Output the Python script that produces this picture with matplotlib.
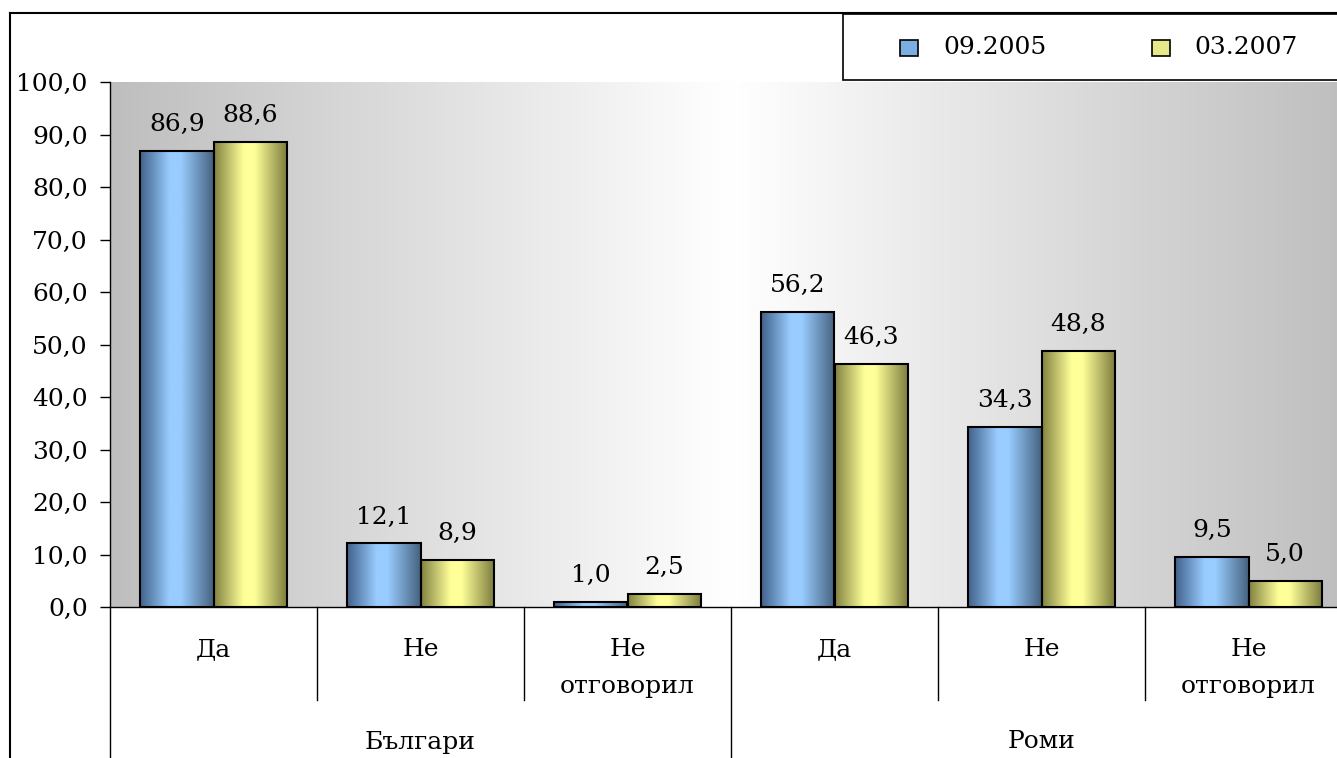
import numpy as np
import matplotlib
matplotlib.use("Agg")
import matplotlib.pyplot as plt
from matplotlib.colors import LinearSegmentedColormap
from matplotlib.patches import Rectangle
from matplotlib.lines import Line2D
import matplotlib.transforms as mtransforms

# ---- data ----
categories = ["Да", "Не", "Не\nотговорил", "Да", "Не", "Не\nотговорил"]
groups = ["Българи", "Роми"]
series_names = ["09.2005", "03.2007"]
values_2005 = [86.9, 12.1, 1.0, 56.2, 34.3, 9.5]
values_2007 = [88.6, 8.9, 2.5, 46.3, 48.8, 5.0]
yticks = [0, 10, 20, 30, 40, 50, 60, 70, 80, 90, 100]

FONT = "DejaVu Serif"
plt.rcParams['font.family'] = [FONT]
FS = 18

W, H = 1337, 758
fig = plt.figure(figsize=(W / 100, H / 100), dpi=100)
fig.patch.set_facecolor("white")

def px(x, y):
    return x / W, 1 - y / H

ax_left, ax_right, ax_top, ax_bot = 110, 1352, 82, 607
ax = fig.add_axes([ax_left / W, 1 - ax_bot / H, (ax_right - ax_left) / W, (ax_bot - ax_top) / H])
ax.set_xlim(0, 6)
ax.set_ylim(0, 100)
ax.patch.set_visible(False)

# background gradient (gray - white - gray)
bg_cmap = LinearSegmentedColormap.from_list("bg", ["#bebebe", "#ffffff", "#bebebe"])
grad = np.linspace(0, 1, 512).reshape(1, -1)
ax.imshow(grad, cmap=bg_cmap, aspect="auto", extent=[0, 6, 0, 100], zorder=0,
          interpolation="bicubic")

blue_cmap = LinearSegmentedColormap.from_list(
    "b", [(0, "#41618a"), (0.4, "#99ccff"), (0.55, "#99ccff"), (1, "#45627f")])
yel_cmap = LinearSegmentedColormap.from_list(
    "y", [(0, "#828242"), (0.4, "#ffff99"), (0.55, "#ffff99"), (1, "#7a7a3c")])

x = np.arange(len(categories)) + 0.5
bw = 0.355

def grad_bars(xs, vals, cmap):
    bars = ax.bar(xs, vals, width=bw, facecolor="none", edgecolor="black",
                  linewidth=1.5, zorder=3)
    g = np.linspace(0, 1, 256).reshape(1, -1)
    for b in bars:
        x0, y0 = b.get_x(), b.get_y()
        w, h = b.get_width(), b.get_height()
        im = ax.imshow(g, cmap=cmap, aspect="auto", extent=[x0, x0 + w, y0, y0 + h],
                       zorder=2, interpolation="bicubic")
        im.set_clip_path(b)
    return bars

b1 = grad_bars(x - bw / 2, values_2005, blue_cmap)
b2 = grad_bars(x + bw / 2, values_2007, yel_cmap)
ax.set_xlim(0, 6)
ax.set_ylim(0, 100)

def fmt(v):
    return f"{v:.1f}".replace(".", ",")

for bars, vals in ((b1, values_2005), (b2, values_2007)):
    for b, v in zip(bars, vals):
        ax.annotate(fmt(v), (b.get_x() + b.get_width() / 2, v), xytext=(0, 19),
                    textcoords="offset points", ha="center", va="center",
                    fontsize=FS, zorder=5)

# axes styling
ax.set_yticks(yticks)
ax.set_yticklabels([fmt(t) for t in yticks], fontsize=FS)
ax.tick_params(axis="y", direction="out", length=7, width=1, pad=9)
ax.set_xticks([])
for s in ["top", "right"]:
    ax.spines[s].set_visible(False)
ax.spines["left"].set_linewidth(1)
ax.spines["bottom"].set_linewidth(1)

# category axis labels and separators
trans = mtransforms.blended_transform_factory(ax.transData, fig.transFigure)
for i, cat in enumerate(categories):
    ax.text(i + 0.5, 1 - 638 / H, cat, transform=trans, ha="center", va="top",
            fontsize=FS, linespacing=1.8)
for i in range(1, 6):
    if i == 3:
        continue
    ax.add_line(Line2D([i, i], [1 - 607 / H, 1 - 700 / H], transform=trans,
                       color="black", lw=1, clip_on=False))
for i in (0, 3):
    ax.add_line(Line2D([i, i], [1 - 607 / H, 0], transform=trans,
                       color="black", lw=1, clip_on=False))
for gi, g in enumerate(groups):
    ax.text(gi * 3 + 1.5, 1 - 742 / H, g, transform=trans, ha="center", va="center",
            fontsize=FS)

# outer chart border
fig.add_artist(Line2D([10 / W, 10 / W], [1 - 13 / H, 0], color="black", lw=1.5))
fig.add_artist(Line2D([10 / W, 1], [1 - 13 / H, 1 - 13 / H], color="black", lw=1.5))

# legend box
fig.add_artist(Rectangle(px(843, 80), (1400 - 843) / W, (80 - 14) / H,
                         transform=fig.transFigure, facecolor="white",
                         edgecolor="black", lw=1.2))
leg_items = [(900, 943, "#7aaee0", series_names[0]),
             (1152, 1194, "#e8e88a", series_names[1])]
for mx, tx, col, name in leg_items:
    fig.add_artist(Rectangle(px(mx, 56), 18 / W, 16 / H, transform=fig.transFigure,
                             facecolor=col, edgecolor="black", lw=1.2))
    fig.text(tx / W, 1 - 47 / H, name, ha="left", va="center", fontsize=FS)

fig.savefig("out.png", dpi=100)
